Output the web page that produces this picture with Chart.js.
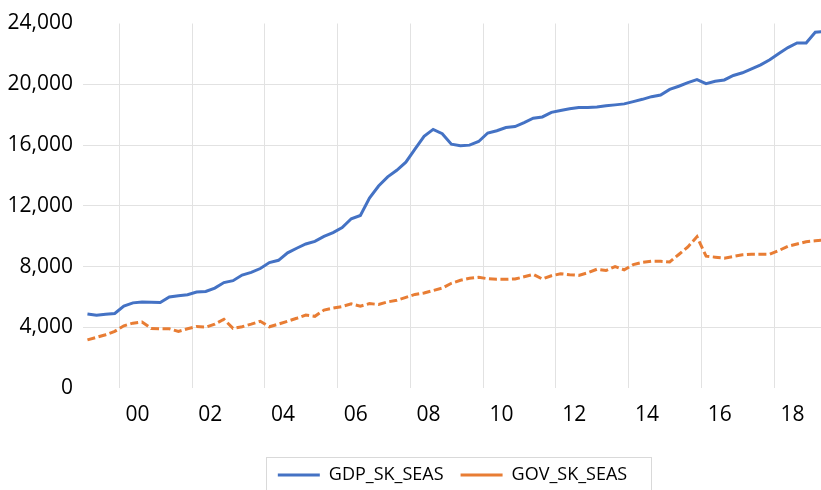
<!DOCTYPE html>
<html><head><meta charset="utf-8">
<script src="https://cdn.jsdelivr.net/npm/chart.js@4/dist/chart.umd.min.js"></script>
<style>html,body{margin:0;padding:0;background:#fff}#wrap{width:821px;height:490px}</style>
</head><body><div id="wrap"><canvas id="c" width="821" height="490"></canvas></div>
<script>
// Quarterly categories 1999Q1 .. 2019Q2
const startYear = 1999;
const quarters = [];
for (let y = startYear; quarters.length < 82; y++) for (let q = 1; q <= 4 && quarters.length < 82; q++) quarters.push(y + 'Q' + q);

const gdpSkSeas = [
  4880, 4795, 4870, 4915, 5400, 5615, 5680, 5660, 5635, 6000,
  6090, 6150, 6325, 6365, 6585, 6950, 7075, 7445, 7620, 7875,
  8265, 8415, 8910, 9210, 9490, 9660, 9985, 10240, 10565, 11150,
  11365, 12505, 13305, 13905, 14340, 14875, 15735, 16570, 17030, 16750,
  16060, 15955, 15995, 16235, 16795, 16945, 17155, 17220, 17480, 17765,
  17850, 18150, 18280, 18385, 18475, 18475, 18505, 18580, 18645, 18710,
  18860, 19010, 19185, 19290, 19660, 19870, 20110, 20305, 20045, 20195,
  20285, 20580, 20755, 21015, 21275, 21615, 22030, 22415, 22715, 22715,
  23425, 23470
];
const govSkSeas = [
  3180, 3350, 3520, 3740, 4105, 4280, 4360, 3935, 3910, 3910,
  3740, 3910, 4060, 4020, 4215, 4535, 3935, 4040, 4215, 4405,
  4040, 4215, 4405, 4600, 4815, 4730, 5140, 5270, 5375, 5550,
  5395, 5570, 5505, 5680, 5785, 5975, 6170, 6270, 6430, 6585,
  6905, 7100, 7230, 7295, 7205, 7165, 7165, 7185, 7335, 7490,
  7185, 7400, 7530, 7465, 7425, 7595, 7830, 7745, 8005, 7790,
  8135, 8285, 8350, 8350, 8305, 8800, 9300, 9965, 8690, 8625,
  8560, 8670, 8780, 8820, 8820, 8820, 9060, 9340, 9490, 9640,
  9705, 9750
];
const xTickLabels = ['00','02','04','06','08','10','12','14','16','18'];
const yTickValues = [0, 4000, 8000, 12000, 16000, 20000, 24000];

function quarterToTime(s) { return +s.slice(0, 4) + (+s.slice(5) - 0.5) / 4; }
function toPoints(vals) { return vals.map((v, i) => ({ x: quarterToTime(quarters[i]), y: v })); }

const FONT = 'Open Sans';
const GRID = '#e2e2e2';

const legendPlugin = {
  id: 'legendShiftBorder',
  afterLayout(chart) {
    const lg = chart.legend;
    lg.left += 42; lg.right += 42;
  },
  afterDraw(chart) {
    const lg = chart.legend;
    const pad = lg.options.labels.padding;
    const lw = lg.lineWidths[0];
    const x0 = (lg.left + pad + lg.right - lw) / 2;
    const x1 = x0 + lw - pad;
    const top = lg.top + pad;
    const ctx = chart.ctx;
    ctx.save();
    ctx.strokeStyle = '#d9d9d9';
    ctx.lineWidth = 1;
    ctx.strokeRect(Math.round(x0 - 12) + 0.5, Math.round(top - 9) + 0.5, Math.round(x1 - x0 + 36), 60);
    ctx.restore();
  }
};

new Chart(document.getElementById('c'), {
  type: 'line',
  data: {
    datasets: [
      { label: 'GDP_SK_SEAS', data: toPoints(gdpSkSeas), borderColor: '#4472C4', backgroundColor: '#4472C4',
        borderWidth: 3, pointRadius: 0, tension: 0, fill: false },
      { label: 'GOV_SK_SEAS', data: toPoints(govSkSeas), borderColor: '#E87D34', backgroundColor: '#E87D34',
        borderWidth: 3, borderDash: [8, 3.5], pointRadius: 0, tension: 0, fill: false }
    ]
  },
  options: {
    responsive: false,
    animation: false,
    devicePixelRatio: 1,
    layout: { padding: { top: 23.5, left: 0, right: 0, bottom: -4 } },
    plugins: {
      tooltip: { enabled: false },
      legend: {
        position: 'bottom',
        labels: { usePointStyle: true, pointStyle: 'line', pointStyleWidth: 42, padding: 17,
          color: '#000', font: { family: FONT, size: 18 } }
      }
    },
    scales: {
      x: {
        type: 'linear', min: startYear, max: 2019.283,
        afterBuildTicks(scale) {
          const t = [];
          xTickLabels.forEach(l => { const y = 2000 + parseInt(l, 10); t.push({ value: y }); t.push({ value: y + 0.5 }); });
          scale.ticks = t;
        },
        afterFit(scale) { scale.height = 60.8; },
        border: { display: false },
        grid: { drawTicks: false, color: c => (c.tick && c.tick.value % 1 === 0) ? GRID : 'rgba(0,0,0,0)', lineWidth: 1 },
        ticks: {
          autoSkip: false, maxRotation: 0, minRotation: 0, padding: 14, color: '#000',
          font: { family: FONT, size: 21 },
          callback: v => (v % 1 === 0.5) ? xTickLabels[(Math.floor(v) - 2000) / 2] : ''
        }
      },
      y: {
        min: 0, max: 24000,
        afterBuildTicks(scale) { scale.ticks = yTickValues.map(v => ({ value: v })); },
        afterFit(scale) { scale.width = 82.9; },
        border: { display: false },
        grid: { drawTicks: false, color: c => (c.tick && (c.tick.value === 0 || c.tick.value === 24000)) ? 'rgba(0,0,0,0)' : GRID, lineWidth: 1 },
        ticks: { padding: 10, color: '#000', font: { family: FONT, size: 21 },
          callback: v => v.toLocaleString('en-US') }
      }
    }
  },
  plugins: [legendPlugin]
});
</script></body></html>
